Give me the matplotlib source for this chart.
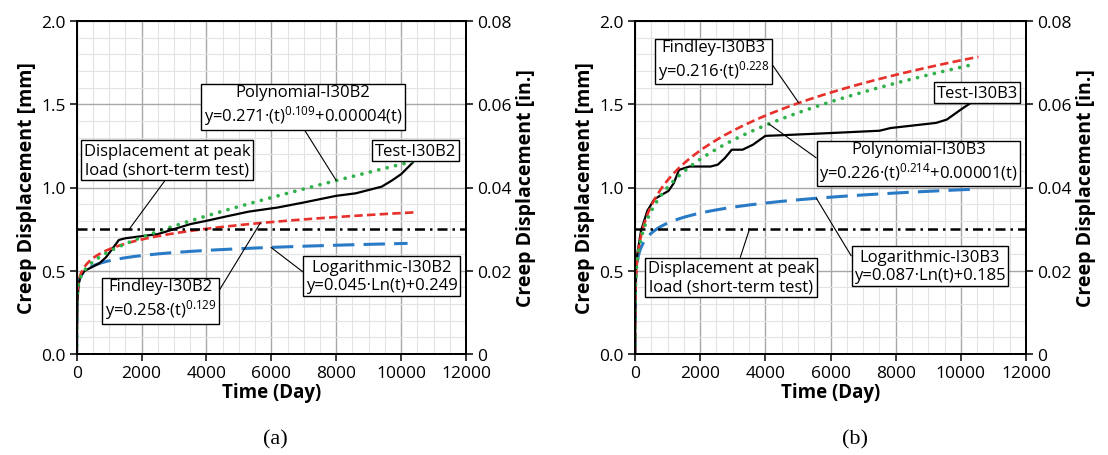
import numpy as np
import matplotlib
matplotlib.use("Agg")
import matplotlib.pyplot as plt
from matplotlib.ticker import FixedLocator, MultipleLocator, FuncFormatter

plt.rcParams['font.family'] = ['Open Sans', 'DejaVu Sans']
plt.rcParams['mathtext.default'] = 'regular'

# ---- measured creep data ----
test_a_t = [0, 20, 60, 120, 250, 450, 700, 900, 1150, 1300, 1500, 1900, 2500, 3000,
            3500, 4000, 4700, 5300, 6200, 7000, 8000, 8600, 9400, 9700, 10000, 10360]
test_a_y = [0, 0.30, 0.42, 0.47, 0.50, 0.52, 0.545, 0.58, 0.645, 0.685, 0.695, 0.705,
            0.72, 0.75, 0.78, 0.80, 0.83, 0.855, 0.88, 0.91, 0.95, 0.965, 1.005, 1.04,
            1.08, 1.15]

test_b_t = [0, 20, 54, 184, 378, 595, 810, 1030, 1190, 1350, 1675, 2320, 2540, 2760,
            2970, 3300, 3620, 4000, 4380, 6000, 7510, 7840, 9240, 9570, 10000, 10378]
test_b_y = [0, 0.45, 0.58, 0.74, 0.86, 0.93, 0.955, 0.98, 1.026, 1.106, 1.126,
            1.126, 1.137, 1.177, 1.227, 1.227, 1.257, 1.31, 1.313, 1.327, 1.341, 1.357,
            1.388, 1.408, 1.468, 1.518]

# ---- fitted model coefficients ----
findley_a = [0.258, 0.129]          # y = a * t^n
poly_a = [0.271, 0.109, 0.00004]    # y = a * t^n + b * t
log_a = [0.045, 0.249]              # y = a * ln(t) + b
findley_b = [0.216, 0.228]
poly_b = [0.226, 0.214, 0.00001]
log_b = [0.087, 0.185]

# end times of the plotted fits [findley, polynomial, logarithmic]
fit_end_a = [10470, 10415, 10200]
fit_end_b = [10540, 10378, 10520]

peak_disp = 0.75  # displacement at peak load, short-term test [mm]

x_ticks = [0, 2000, 4000, 6000, 8000, 10000, 12000]
y_ticks = [0.0, 0.5, 1.0, 1.5, 2.0]
y_in_ticks = [0, 0.02, 0.04, 0.06, 0.08]

RED = '#E8302A'
GREEN = '#2FB14B'
BLUE = '#2A7BC6'


def t_grid(t_end, t_start=1e-4):
    return np.concatenate([[0.0], np.geomspace(t_start, t_end, 600)])


def draw_panel(ax, test_t, test_y, fin, pol, lg, ends):
    # grid
    ax.set_xlim(0, 12000)
    ax.set_ylim(0, 2.0)
    ax.xaxis.set_major_locator(FixedLocator(x_ticks))
    ax.yaxis.set_major_locator(FixedLocator(y_ticks))
    ax.xaxis.set_minor_locator(MultipleLocator(500))
    ax.yaxis.set_minor_locator(MultipleLocator(0.1))
    ax.grid(which='minor', color='#E3E3E3', lw=0.8, zorder=0)
    ax.grid(which='major', color='#A8A8A8', lw=1.0, zorder=0.5)
    ax.set_axisbelow(True)
    ax.tick_params(which='minor', length=0)
    ax.tick_params(which='major', direction='out', length=5, width=1.1,
                   labelsize=12.5, color='black', pad=3)
    ax.yaxis.set_major_formatter(FuncFormatter(lambda v, p: f"{v:.1f}"))
    for s in ax.spines.values():
        s.set_linewidth(1.3)
        s.set_color('black')

    # measured response
    ax.plot(test_t, test_y, color='black', lw=1.6, zorder=4)

    # fitted models
    tf = t_grid(ends[0])
    ax.plot(tf, fin[0] * tf ** fin[1], color=RED, lw=1.9, dashes=(3.2, 1.6), zorder=5)
    tp = t_grid(ends[1])
    ax.plot(tp, pol[0] * tp ** pol[1] + pol[2] * tp, color=GREEN, lw=2.7,
            dashes=(0.01, 2.3), dash_capstyle='round', zorder=6)
    tl = t_grid(ends[2], np.exp(-lg[1] / lg[0]))
    yl = lg[0] * np.log(tl[1:]) + lg[1]
    ax.plot(np.concatenate([[0.0], tl[1:]]), np.concatenate([[0.0], yl]),
            color=BLUE, lw=2.2, dashes=(7, 3), zorder=3)

    # peak-load reference line
    ax.axhline(peak_disp, color='black', lw=1.8, dashes=(4, 2, 1, 2), zorder=7)

    ax.set_xlabel('Time (Day)', fontsize=13.5, fontweight='bold', labelpad=1)
    ax.set_ylabel('Creep Displacement [mm]', fontsize=14, fontweight='bold', labelpad=3)

    ax2 = ax.twinx()
    ax2.set_ylim(0, 0.08)
    ax2.yaxis.set_major_locator(FixedLocator(y_in_ticks))
    ax2.yaxis.set_major_formatter(FuncFormatter(lambda v, p: '0' if v == 0 else f"{v:.2f}"))
    ax2.tick_params(direction='out', length=5, width=1.1, labelsize=12.5, pad=3)
    ax2.set_ylabel('Creep Displacement [in.]', fontsize=14, fontweight='bold', labelpad=3)
    for s in ax2.spines.values():
        s.set_linewidth(1.3)
    return ax2


def note(ax, text, box_xy, point_xy, relpos):
    ax.annotate(text, xy=point_xy, xytext=box_xy, xycoords='data', textcoords='data',
                ha='center', va='center', multialignment='center', fontsize=12,
                linespacing=1.2, zorder=10,
                bbox=dict(boxstyle='square,pad=0.15', fc='white', ec='black', lw=1.0),
                arrowprops=dict(arrowstyle='-', color='black', lw=0.8, relpos=relpos,
                                shrinkA=0, shrinkB=0))


fig = plt.figure(figsize=(11.08, 4.56), dpi=100)
ax_a = fig.add_axes([76.7 / 1108, 101 / 456, 389.3 / 1108, 333 / 456])
ax_b = fig.add_axes([635 / 1108, 101 / 456, 391 / 1108, 333 / 456])

draw_panel(ax_a, test_a_t, test_a_y, findley_a, poly_a, log_a, fit_end_a)
draw_panel(ax_b, test_b_t, test_b_y, findley_b, poly_b, log_b, fit_end_b)

# panel (a) labels
note(ax_a, 'Polynomial-I30B2\ny=0.271·(t)$^{0.109}$+0.00004(t)', (6973, 1.491),
     (8000, 1.042), (0.5, 0.0))
note(ax_a, 'Displacement at peak\nload (short-term test)', (2792, 1.164),
     (1620, 0.75), (0.5, 0.0))
note(ax_a, 'Test-I30B2', (10443, 1.222), (test_a_t[-1], test_a_y[-1]), (0.5, 0.0))
note(ax_a, 'Logarithmic-I30B2\ny=0.045·Ln(t)+0.249', (9404, 0.469),
     (5990, 0.64), (0.0, 0.55))
note(ax_a, 'Findley-I30B2\ny=0.258·(t)$^{0.129}$', (2585, 0.328),
     (5660, 0.787), (1.0, 0.6))

# panel (b) labels
note(ax_b, 'Findley-I30B3\ny=0.216·(t)$^{0.228}$', (2405, 1.764),
     (5027, 1.508), (1.0, 0.5))
note(ax_b, 'Test-I30B3', (10503, 1.568), (test_b_t[-1], test_b_y[-1]), (0.5, 0.0))
note(ax_b, 'Polynomial-I30B3\ny=0.226·(t)$^{0.214}$+0.00001(t)', (8703, 1.152),
     (4108, 1.382), (0.0, 0.55))
note(ax_b, 'Logarithmic-I30B3\ny=0.087·Ln(t)+0.185', (9054, 0.529),
     (5567, 0.935), (0.0, 0.65))
note(ax_b, 'Displacement at peak\nload (short-term test)', (2946, 0.459),
     (3513, 0.75), (0.55, 1.0))

fig.text(275 / 1108, 1 - 440 / 456, '(a)', ha='center', va='center',
         fontsize=16, family=['Liberation Serif', 'DejaVu Serif'])
fig.text(855 / 1108, 1 - 440 / 456, '(b)', ha='center', va='center',
         fontsize=16, family=['Liberation Serif', 'DejaVu Serif'])

fig.savefig('out.png', dpi=100, facecolor='white')
